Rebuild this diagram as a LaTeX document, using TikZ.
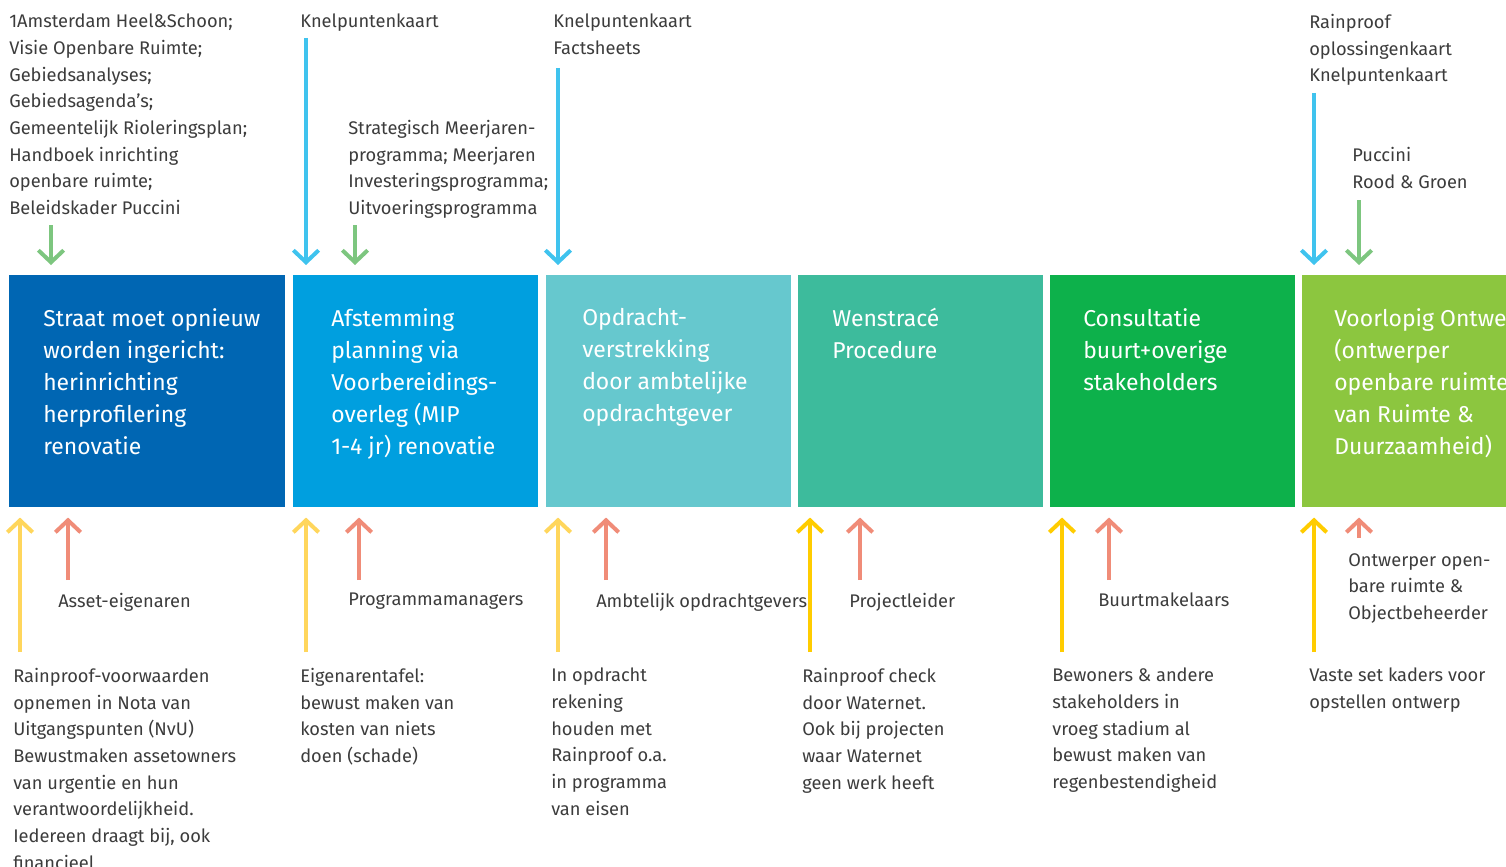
\documentclass[tikz,border=0pt]{standalone}
\usepackage{fontspec}
\setmainfont{Fira Sans}
\usetikzlibrary{arrows.meta}

\definecolor{boxA}{RGB}{0,102,179}
\definecolor{boxB}{RGB}{0,159,223}
\definecolor{boxC}{RGB}{102,200,206}
\definecolor{boxD}{RGB}{61,187,156}
\definecolor{boxE}{RGB}{13,177,75}
\definecolor{boxF}{RGB}{140,198,63}
\definecolor{arrblue}{RGB}{63,195,238}
\definecolor{arrgreen}{RGB}{125,198,127}
\definecolor{arrpale}{RGB}{255,214,92}
\definecolor{arryellow}{RGB}{255,204,0}
\definecolor{arrsalmon}{RGB}{240,140,120}
\definecolor{txtgray}{RGB}{60,60,60}

\tikzset{
  stage/.style={anchor=north west, inner sep=0pt, minimum height=174pt},
  stagetitle/.style={anchor=north west, inner sep=0pt, align=left, text=white,
    font=\fontsize{17.2}{24}\selectfont},
  note/.style={anchor=north west, inner sep=0pt, align=left, text=txtgray,
    font=\fontsize{13.7}{20}\selectfont},
  inarrow/.style={line width=3pt, -{Straight Barb[length=9pt,width=19pt]}, shorten >=7.5pt},
}

\begin{document}
\begin{tikzpicture}[x=0.75pt,y=0.75pt,yscale=-1,xscale=1]
\path[use as bounding box, clip] (0,0) rectangle (1506,867);

%Shape: stages
\node [stage, fill=boxA, minimum width=207pt] (s1) at (9,275) {};
\node [stage, fill=boxB, minimum width=183.75pt] (s2) at (293,275) {};
\node [stage, fill=boxC, minimum width=183.75pt] (s3) at (546,275) {};
\node [stage, fill=boxD, minimum width=183.75pt] (s4) at (798,275) {};
\node [stage, fill=boxE, minimum width=183.75pt] (s5) at (1050,275) {};
\node [stage, fill=boxF, minimum width=183.75pt] (s6) at (1302,275) {};

% Stage titles
\node [stagetitle] (h1) at (43,308) {Straat moet opnieuw\\worden ingericht:\\herinrichting\\herprofilering\\renovatie};
\node [stagetitle] (h2) at (331,308) {Afstemming\\planning via\\Voorbereidings-\\overleg (MIP\\1-4 jr) renovatie};
\node [stagetitle] (h3) at (582,308) {Opdracht-\\verstrekking\\door ambtelijke\\opdrachtgever};
\node [stagetitle] (h4) at (832,308) {Wenstracé\\Procedure};
\node [stagetitle] (h5) at (1083,308) {Consultatie\\buurt+overige\\stakeholders};
\node [stagetitle] (h6) at (1334,308) {Voorlopig Ontwerp\\(ontwerper\\openbare ruimte\\van Ruimte \&\\Duurzaamheid)};

% Text Node: inputs above
\node [note] (i1) at (9,14) {1Amsterdam Heel\&Schoon;\\Visie Openbare Ruimte;\\Gebiedsanalyses;\\Gebiedsagenda’s;\\Gemeentelijk Rioleringsplan;\\Handboek inrichting\\openbare ruimte;\\Beleidskader Puccini};
\node [note] (i2) at (300,14) {Knelpuntenkaart};
\node [note] (i3) at (348,120) {Strategisch Meerjaren-\\programma; Meerjaren\\Investeringsprogramma;\\Uitvoeringsprogramma};
\node [note] (i4) at (553,14) {Knelpuntenkaart\\Factsheets};
\node [note] (i5) at (1309,14) {Rainproof\\oplossingenkaart\\Knelpuntenkaart};
\node [note] (i6) at (1352,147) {Puccini\\Rood \& Groen};

% Text Node: actors
\node [note] (a1) at (58,593) {Asset-eigenaren};
\node [note] (a2) at (348,593) {Programmamanagers};
\node [note] (a3) at (596,593) {Ambtelijk opdrachtgevers};
\node [note] (a4) at (849,593) {Projectleider};
\node [note] (a5) at (1098,593) {Buurtmakelaars};
\node [note] (a6) at (1348,553) {Ontwerper open-\\bare ruimte \&\\Objectbeheerder};

% Text Node: rainproof actions
\node [note] (r1) at (13,668) {Rainproof-voorwaarden\\opnemen in Nota van\\Uitgangspunten (NvU)\\Bewustmaken assetowners\\van urgentie en hun\\verantwoordelijkheid.\\Iedereen draagt bij, ook\\financieel};
\node [note] (r2) at (300,668) {Eigenarentafel:\\bewust maken van\\kosten van niets\\doen (schade)};
\node [note] (r3) at (551,668) {In opdracht\\rekening\\houden met\\Rainproof o.a.\\in programma\\van eisen};
\node [note] (r4) at (802,668) {Rainproof check\\door Waternet.\\Ook bij projecten\\waar Waternet\\geen werk heeft};
\node [note] (r5) at (1052,668) {Bewoners \& andere\\stakeholders in\\vroeg stadium al\\bewust maken van\\regenbestendigheid};
\node [note] (r6) at (1309,668) {Vaste set kaders voor\\opstellen ontwerp};

% arrow tails
\coordinate (g1) at (51,225);
\coordinate (k2) at (306,38);
\coordinate (g2) at (355,225);
\coordinate (k3) at (558,68);
\coordinate (k6) at (1314,93);
\coordinate (g6) at (1359,200);

\coordinate (y1) at (20,652);
\coordinate (y2) at (306,652);
\coordinate (y3) at (558,652);
\coordinate (y4) at (810,652);
\coordinate (y5) at (1062,652);
\coordinate (y6) at (1314,652);
\coordinate (p1) at (68,580);
\coordinate (p2) at (359,580);
\coordinate (p3) at (606,580);
\coordinate (p4) at (860,580);
\coordinate (p5) at (1109,580);
\coordinate (p6) at (1359,538);

% Arrows down into the stages
\draw [inarrow, arrgreen] (g1) -- (g1 |- s1.north);
\draw [inarrow, arrblue] (k2) -- (k2 |- s2.north);
\draw [inarrow, arrgreen] (g2) -- (g2 |- s2.north);
\draw [inarrow, arrblue] (k3) -- (k3 |- s3.north);
\draw [inarrow, arrblue] (k6) -- (k6 |- s6.north);
\draw [inarrow, arrgreen] (g6) -- (g6 |- s6.north);

% Arrows up into the stages
\draw [inarrow, arrpale] (y1) -- (y1 |- s1.south);
\draw [inarrow, arrsalmon] (p1) -- (p1 |- s1.south);
\draw [inarrow, arrpale] (y2) -- (y2 |- s2.south);
\draw [inarrow, arrsalmon] (p2) -- (p2 |- s2.south);
\draw [inarrow, arrpale] (y3) -- (y3 |- s3.south);
\draw [inarrow, arrsalmon] (p3) -- (p3 |- s3.south);
\draw [inarrow, arryellow] (y4) -- (y4 |- s4.south);
\draw [inarrow, arrsalmon] (p4) -- (p4 |- s4.south);
\draw [inarrow, arryellow] (y5) -- (y5 |- s5.south);
\draw [inarrow, arrsalmon] (p5) -- (p5 |- s5.south);
\draw [inarrow, arryellow] (y6) -- (y6 |- s6.south);
\draw [inarrow, arrsalmon] (p6) -- (p6 |- s6.south);

\end{tikzpicture}
\end{document}
